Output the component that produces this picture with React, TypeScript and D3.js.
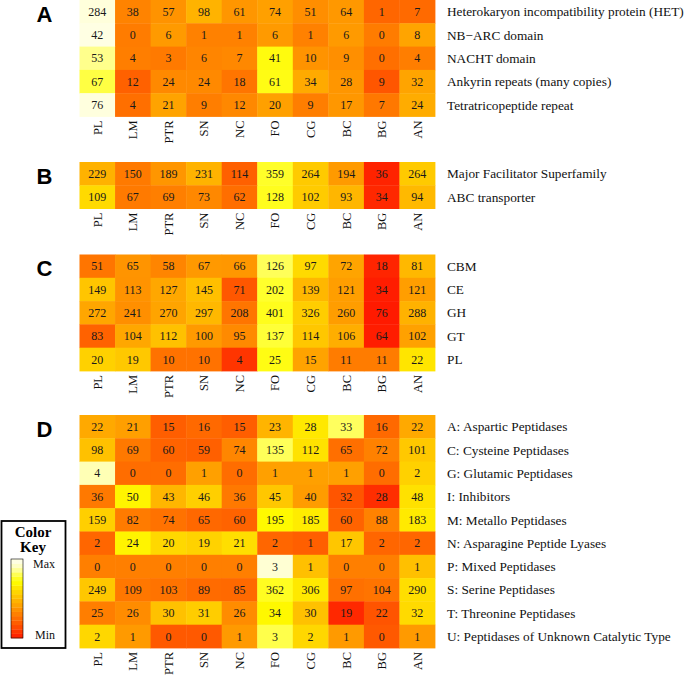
import React from "react";
import * as d3 from "d3";

const columns = ["PL", "LM", "PTR", "SN", "NC", "FO", "CG", "BC", "BG", "AN"];

const rowsA = [
  "Heterokaryon incompatibility protein (HET)",
  "NB\u2212ARC domain",
  "NACHT domain",
  "Ankyrin repeats (many copies)",
  "Tetratricopeptide repeat",
];
const valuesA = [
  [284, 38, 57, 98, 61, 74, 51, 64, 1, 7],
  [42, 0, 6, 1, 1, 6, 1, 6, 0, 8],
  [53, 4, 3, 6, 7, 41, 10, 9, 0, 4],
  [67, 12, 24, 24, 18, 61, 34, 28, 9, 32],
  [76, 4, 21, 9, 12, 20, 9, 17, 7, 24],
];

const rowsB = ["Major Facilitator Superfamily", "ABC transporter"];
const valuesB = [
  [229, 150, 189, 231, 114, 359, 264, 194, 36, 264],
  [109, 67, 69, 73, 62, 128, 102, 93, 34, 94],
];

const rowsC = ["CBM", "CE", "GH", "GT", "PL"];
const valuesC = [
  [51, 65, 58, 67, 66, 126, 97, 72, 18, 81],
  [149, 113, 127, 145, 71, 202, 139, 121, 34, 121],
  [272, 241, 270, 297, 208, 401, 326, 260, 76, 288],
  [83, 104, 112, 100, 95, 137, 114, 106, 64, 102],
  [20, 19, 10, 10, 4, 25, 15, 11, 11, 22],
];

const rowsD = [
  "A: Aspartic Peptidases",
  "C: Cysteine Peptidases",
  "G: Glutamic Peptidases",
  "I: Inhibitors",
  "M: Metallo Peptidases",
  "N: Asparagine Peptide Lyases",
  "P: Mixed Peptidases",
  "S: Serine Peptidases",
  "T: Threonine Peptidases",
  "U: Peptidases of Unknown Catalytic Type",
];
const valuesD = [
  [22, 21, 15, 16, 15, 23, 28, 33, 16, 22],
  [98, 69, 60, 59, 74, 135, 112, 65, 72, 101],
  [4, 0, 0, 1, 0, 1, 1, 1, 0, 2],
  [36, 50, 43, 46, 36, 45, 40, 32, 28, 48],
  [159, 82, 74, 65, 60, 195, 185, 60, 88, 183],
  [2, 24, 20, 19, 21, 2, 1, 17, 2, 2],
  [0, 0, 0, 0, 0, 3, 1, 0, 0, 1],
  [249, 109, 103, 89, 85, 362, 306, 97, 104, 290],
  [25, 26, 30, 31, 26, 34, 30, 19, 22, 32],
  [2, 1, 0, 0, 1, 3, 2, 1, 0, 1],
];

const zStops = [-2.0, -1.0, 0, 0.6, 1.0, 1.4, 1.8, 2.2, 2.6, 2.9];
const colorStops = [
  "#ff1a00", "#ff6000", "#ffa000", "#ffc500", "#ffdd00",
  "#fffa00", "#ffff30", "#ffff90", "#ffffd8", "#ffffec",
];

const color = d3
  .scaleLinear<string>()
  .domain(zStops)
  .range(colorStops)
  .interpolate(d3.interpolateRgb)
  .clamp(true);

const W = 685;
const H = 676;
const gridLeft = 79.5;
const gridRight = 435;
const rowH = 23.3;
const serif = "Liberation Serif, Times New Roman, serif";
const sans = "Liberation Sans, Arial, sans-serif";

const x = d3.scaleBand<string>().domain(columns).range([gridLeft, gridRight]);

function Panel({ letter, rows, values, top }: { letter: string; rows: string[]; values: number[][]; top: number }) {
  const y = d3
    .scaleBand<string>()
    .domain(rows)
    .range([top, top + rows.length * rowH]);
  const bottom = top + rows.length * rowH;
  return (
    <g>
      <text x={44.5} y={top + 21.5} fontFamily={sans} fontWeight="bold" fontSize={22} textAnchor="middle" fill="#000">
        {letter}
      </text>
      {values.map((row, ri) => {
        const m = d3.mean(row) as number;
        const s = (d3.deviation(row) as number) || 1;
        return row.map((v, ci) => {
          const z = (v - m) / s;
          const cx = x(columns[ci]) as number;
          const cy = y(rows[ri]) as number;
          return (
            <g key={`${ri}-${ci}`}>
              <rect x={cx} y={cy} width={x.bandwidth() + 0.4} height={y.bandwidth() + 0.4} fill={color(z)} />
              <text
                x={cx + x.bandwidth() / 2}
                y={cy + y.bandwidth() / 2}
                dy="0.35em"
                textAnchor="middle"
                fontFamily={serif}
                fontSize={12}
                fill="#1a1a1a"
              >
                {v}
              </text>
            </g>
          );
        });
      })}
      {rows.map((r) => (
        <text
          key={r}
          x={447}
          y={(y(r) as number) + y.bandwidth() / 2}
          dy="0.35em"
          fontFamily={serif}
          fontSize={13.3}
          fill="#111"
        >
          {r}
        </text>
      ))}
      {columns.map((c) => (
        <text
          key={c}
          transform={`translate(${(x(c) as number) + x.bandwidth() / 2},${bottom + 4}) rotate(-90)`}
          dy="0.35em"
          textAnchor="end"
          fontFamily={serif}
          fontSize={12.5}
          fill="#111"
        >
          {c}
        </text>
      ))}
    </g>
  );
}

function ColorKey() {
  const bands = 18;
  const barTop = 559;
  const barBottom = 638;
  const bh = (barBottom - barTop) / bands;
  const zs = d3.range(bands).map((i) => zStops[0] + ((zStops[zStops.length - 1] - zStops[0]) * (i + 0.5)) / bands);
  return (
    <g>
      <rect x={1.5} y={521} width={64} height={127} fill="#fff" stroke="#000" strokeWidth={1.8} />
      <text x={33} y={537} textAnchor="middle" fontFamily={serif} fontWeight="bold" fontSize={15} fill="#000">
        Color
      </text>
      <text x={33} y={552} textAnchor="middle" fontFamily={serif} fontWeight="bold" fontSize={15} fill="#000">
        Key
      </text>
      {zs.map((z, i) => (
        <rect key={i} x={11} y={barBottom - (i + 1) * bh} width={12} height={bh + 0.3} fill={color(z)} />
      ))}
      <rect x={11} y={barTop} width={12} height={barBottom - barTop} fill="none" stroke="#000" strokeWidth={0.6} />
      <text x={55} y={568} textAnchor="end" fontFamily={serif} fontSize={12} fill="#111">
        Max
      </text>
      <text x={55} y={639} textAnchor="end" fontFamily={serif} fontSize={12} fill="#111">
        Min
      </text>
    </g>
  );
}

export default function App() {
  const panels = [
    { letter: "A", rows: rowsA, values: valuesA, top: 0 },
    { letter: "B", rows: rowsB, values: valuesB, top: 162 },
    { letter: "C", rows: rowsC, values: valuesC, top: 254.5 },
    { letter: "D", rows: rowsD, values: valuesD, top: 415 },
  ];
  return (
    <svg width={W} height={H} style={{ position: "absolute", left: 0, top: 0, background: "#fff" }}>
      <rect width={W} height={H} fill="#fff" />
      {panels.map((p) => (
        <Panel key={p.letter} {...p} />
      ))}
      <ColorKey />
    </svg>
  );
}
